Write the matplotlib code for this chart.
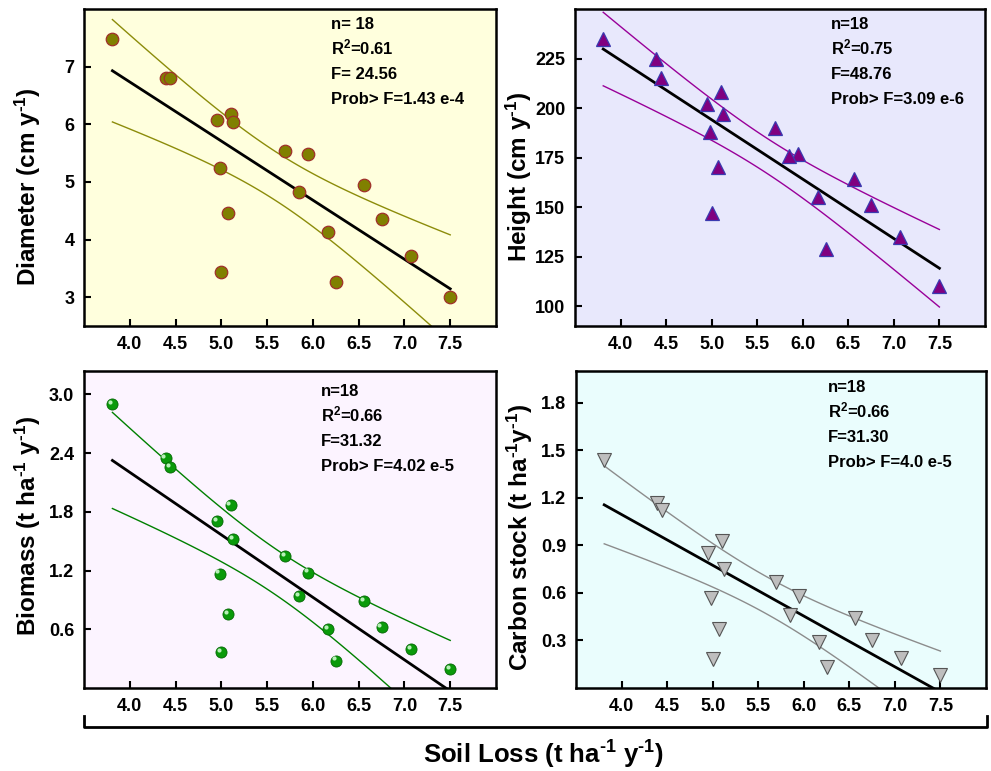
import numpy as np
import matplotlib
matplotlib.use('Agg')
import matplotlib.pyplot as plt
from matplotlib.lines import Line2D
from matplotlib.transforms import offset_copy

plt.rcParams['font.family'] = ['Liberation Sans', 'DejaVu Sans']
plt.rcParams['font.weight'] = 'bold'
plt.rcParams['mathtext.fontset'] = 'custom'
plt.rcParams['mathtext.rm'] = 'Liberation Sans:bold'
plt.rcParams['mathtext.it'] = 'Liberation Sans:bold'
plt.rcParams['mathtext.bf'] = 'Liberation Sans:bold'
plt.rcParams['mathtext.default'] = 'rm'

## data (same 18 sites in every panel)
soil_loss = [3.81, 4.39, 4.44, 4.95, 5.10, 5.13, 4.98, 5.07, 5.00,
             5.70, 5.95, 5.85, 6.17, 6.25, 6.56, 6.75, 7.07, 7.50]
diameter = [7.48, 6.81, 6.81, 6.08, 6.18, 6.04, 5.24, 4.46, 3.44,
            5.53, 5.48, 4.83, 4.13, 3.26, 4.95, 4.36, 3.72, 3.01]
height = [235, 225, 215, 202, 208, 197, 188, 170, 147,
          190, 177, 176, 155, 129, 164, 151, 135, 110]
biomass = [2.90, 2.35, 2.26, 1.71, 1.87, 1.52, 1.17, 0.76, 0.37,
           1.35, 1.18, 0.94, 0.60, 0.28, 0.89, 0.62, 0.40, 0.19]
carbon = [1.44, 1.17, 1.12, 0.85, 0.93, 0.75, 0.57, 0.37, 0.18,
          0.67, 0.58, 0.46, 0.29, 0.13, 0.44, 0.30, 0.19, 0.08]

stats_diameter = ['n= 18', 'R$^2$=0.61', 'F= 24.56', 'Prob> F=1.43 e-4']
stats_height = ['n=18', 'R$^2$=0.75', 'F=48.76', 'Prob> F=3.09 e-6']
stats_biomass = ['n=18', 'R$^2$=0.66', 'F=31.32', 'Prob> F=4.02 e-5']
stats_carbon = ['n=18', 'R$^2$=0.66', 'F=31.30', 'Prob> F=4.0 e-5']

x_ticks = [4.0, 4.5, 5.0, 5.5, 6.0, 6.5, 7.0, 7.5]

T_CRIT = 2.12  # t(0.975, df=16)
INV = r'^{\text{-1}}'  # plain hyphen in the superscript, like the original


def fit_with_band(x, y):
    # linear fit plus 95% confidence band of the mean
    x = np.array(x, float)
    y = np.array(y, float)
    slope, inter = np.polyfit(x, y, 1)
    resid = y - (slope * x + inter)
    s = np.sqrt(np.sum(resid ** 2) / (len(x) - 2))
    sxx = np.sum((x - x.mean()) ** 2)
    xs = np.linspace(x.min(), x.max(), 100)
    ys = slope * xs + inter
    half = T_CRIT * s * np.sqrt(1 / len(x) + (xs - x.mean()) ** 2 / sxx)
    return xs, ys, ys - half, ys + half


def panel(rect, y, ylim, yticks, ylabel, label_y, bg, band_color, stats, text_x, text_y, marker_kw):
    ax = fig.add_axes(rect)
    ax.set_facecolor(bg)
    xs, ys, lo, hi = fit_with_band(soil_loss, y)
    ax.plot(xs, hi, color=band_color, lw=1.0, zorder=2)
    ax.plot(xs, lo, color=band_color, lw=1.0, zorder=2)
    ax.plot(xs, ys, color='black', lw=2.0, zorder=3)
    ax.plot(soil_loss, y, linestyle='none', zorder=4, **marker_kw)

    ax.set_xlim(3.5, 8.0)
    ax.set_ylim(*ylim)
    ax.set_xticks(x_ticks)
    ax.set_xticklabels(['{:.1f}'.format(v) for v in x_ticks])
    ax.set_yticks(yticks)
    ax.tick_params(direction='in', length=5, width=1.5, labelsize=13, pad=7)
    for sp in ax.spines.values():
        sp.set_linewidth(1.8)
    ax.set_ylabel(ylabel, fontsize=17.5, fontweight='bold')
    ax.yaxis.set_label_coords(-0.10, label_y)

    # stats block, one line at a time on a common baseline step
    for i, line in enumerate(stats):
        ax.text(text_x, text_y - 0.017 - i * 0.079, line, transform=ax.transAxes,
                fontsize=12, fontweight='bold', va='baseline', ha='left')
    return ax


fig = plt.figure(figsize=(9.91, 7.71), dpi=100)
fig.patch.set_facecolor('white')

panel([0.0848, 0.5772, 0.4157, 0.4111], diameter, (2.5, 8.0), [3, 4, 5, 6, 7],
      'Diameter (cm y$' + INV + '$)', 0.44, '#FFFFDD', '#8C8C0A', stats_diameter, 0.60, 0.953,
      dict(marker='o', ms=9, mfc='#808000', mec='#A0302A', mew=0.9))

panel([0.5802, 0.5772, 0.4137, 0.4111], height, (90, 250), [100, 125, 150, 175, 200, 225],
      'Height (cm y$' + INV + '$)', 0.47, '#E8E8FC', '#990099', stats_height, 0.624, 0.953,
      dict(marker='^', ms=10, mfc='#800080', mec='#3A3AB0', mew=0.9))

ax3 = panel([0.0848, 0.1077, 0.4157, 0.4111], biomass, (0, 3.24), [0.6, 1.2, 1.8, 2.4, 3.0],
            'Biomass (t ha$' + INV + '$ y$' + INV + '$)', 0.51, '#FCF4FF', '#008000', stats_biomass, 0.575, 0.937,
            dict(marker='o', ms=8, mfc='#0A9A0A', mec='#066606', mew=0.6))
ax3.yaxis.set_major_formatter(matplotlib.ticker.FormatStrFormatter('%.1f'))
# small highlight so the green points look like little spheres
shine = offset_copy(ax3.transData, fig=fig, x=-1.5, y=1.5, units='points')
ax3.plot(soil_loss, biomass, linestyle='none', marker='o', ms=3,
         mfc='#B8F0B8', mec='none', transform=shine, zorder=5)

ax4 = panel([0.5812, 0.1077, 0.4137, 0.4111], carbon, (0, 2.0), [0.3, 0.6, 0.9, 1.2, 1.5, 1.8],
            'Carbon stock (t ha$' + INV + '$y$' + INV + '$)', 0.476, '#EAFDFD', '#8C8C8C', stats_carbon, 0.615, 0.950,
            dict(marker='v', ms=10, mfc='#BEBEBE', mec='#555555', mew=0.8))
ax4.yaxis.set_major_formatter(matplotlib.ticker.FormatStrFormatter('%.1f'))

# bracket under the bottom row and the shared x label
fig.add_artist(Line2D([0.0848, 0.0848, 0.996, 0.996], [0.0713, 0.0571, 0.0571, 0.0713],
                      color='black', lw=2.0, transform=fig.transFigure))
fig.text(0.548, 0.021, 'Soil Loss (t ha$' + INV + '$ y$' + INV + '$)', ha='center', va='center',
         fontsize=18.5, fontweight='bold')

plt.savefig('out.png', dpi=100)
